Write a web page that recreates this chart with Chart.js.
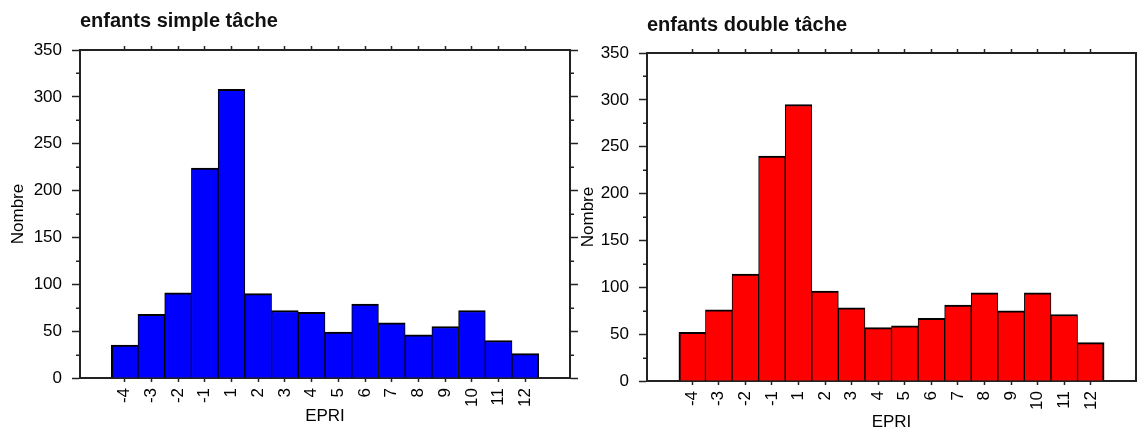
<!DOCTYPE html>
<html>
<head>
<meta charset="utf-8">
<script src="https://cdn.jsdelivr.net/npm/chart.js@4.4.1/dist/chart.umd.min.js"></script>
<style>
  html, body { margin: 0; padding: 0; background: #fff; }
  body { width: 1137px; height: 433px; position: relative; overflow: hidden; }
  canvas { position: absolute; top: 0; }
  #c1 { left: 0; }
  #c2 { left: 578px; }
</style>
</head>
<body>
<canvas id="c1" width="578" height="433"></canvas>
<canvas id="c2" width="559" height="433"></canvas>
<script>
// EPRI classes on the horizontal axis
const categories = ['-4', '-3', '-2', '-1', '1', '2', '3', '4', '5', '6', '7', '8', '9', '10', '11', '12'];
// Counts per class
const simpleTask = [35, 68, 91, 224, 308, 90, 72, 70, 49, 79, 59, 46, 55, 72, 40, 26];
const doubleTask = [52, 76, 114, 240, 295, 96, 78, 57, 59, 67, 81, 94, 75, 94, 71, 41];
// Vertical axis ticks
const majorTicks = [0, 50, 100, 150, 200, 250, 300, 350];
const minorTicks = [25, 75, 125, 175, 225, 275, 325];

const FONT = '"Liberation Sans", Arial, sans-serif';
const INK = '#222';

// Short intermediate ticks on both vertical edges of the frame
const minorTickPlugin = {
  id: 'minorTickMarks',
  afterDraw(chart) {
    const { ctx, chartArea } = chart;
    const y = chart.scales.y;
    ctx.save();
    ctx.strokeStyle = INK;
    ctx.lineWidth = 1.5;
    ctx.beginPath();
    for (const v of minorTicks) {
      const py = Math.round(y.getPixelForValue(v)) + 0.25;
      ctx.moveTo(chartArea.left - 4, py);
      ctx.lineTo(chartArea.left, py);
      ctx.moveTo(chartArea.right, py);
      ctx.lineTo(chartArea.right + 4, py);
    }
    ctx.stroke();
    ctx.restore();
  }
};

// Panel heading, left-aligned on the plot frame
const panelTitlePlugin = {
  id: 'panelTitle',
  afterDraw(chart, args, opts) {
    const { ctx, chartArea } = chart;
    ctx.save();
    ctx.font = 'bold 20px ' + FONT;
    ctx.fillStyle = '#111';
    ctx.textAlign = 'left';
    ctx.textBaseline = 'alphabetic';
    ctx.fillText(opts.text, chartArea.left, opts.y);
    ctx.restore();
  }
};

function histogram(canvasId, heading, values, color, g) {
  const xMin = -0.5 - g.pad;
  const xMax = categories.length - 0.5 + g.pad;
  const setCategoryTicks = (scale) => {
    scale.ticks = categories.map((_, i) => ({ value: i }));
  };
  const tickFont = { family: FONT, size: 17 };
  const n = values.length;

  return new Chart(document.getElementById(canvasId), {
    type: 'bar',
    data: {
      datasets: [{
        data: values.map((v, i) => ({ x: i, y: v })),
        backgroundColor: color,
        borderColor: '#000',
        borderWidth: (c) => ({
          top: 2,
          bottom: 0,
          left: c.dataIndex === 0 ? 2 : 1,
          right: c.dataIndex === n - 1 ? 2 : 1
        }),
        borderSkipped: 'bottom',
        barPercentage: 1,
        categoryPercentage: 1,
        xAxisID: 'x',
        yAxisID: 'y'
      }]
    },
    options: {
      responsive: false,
      animation: false,
      layout: { padding: 0 },
      plugins: {
        legend: { display: false },
        tooltip: { enabled: false },
        panelTitle: { text: heading, y: g.titleY }
      },
      scales: {
        x: {
          type: 'linear',
          position: 'bottom',
          min: xMin,
          max: xMax,
          offset: false,
          afterBuildTicks: setCategoryTicks,
          afterFit: (s) => { s.height = g.bottom; },
          grid: { drawOnChartArea: false, offset: false, tickLength: 4, tickWidth: 1.5, tickColor: INK },
          border: { display: true, color: INK, width: 2 },
          ticks: {
            autoSkip: false,
            minRotation: 90,
            maxRotation: 90,
            padding: 6,
            color: '#000',
            font: tickFont,
            callback: (v) => categories[v] ?? ''
          },
          title: {
            display: true,
            text: 'EPRI',
            color: '#000',
            font: tickFont,
            padding: { top: 0, bottom: g.xTitlePad }
          }
        },
        xTop: {
          type: 'linear',
          position: 'top',
          min: xMin,
          max: xMax,
          offset: false,
          afterBuildTicks: setCategoryTicks,
          afterFit: (s) => { s.height = g.top; },
          grid: { drawOnChartArea: false, offset: false, tickLength: 4, tickWidth: 1.5, tickColor: INK },
          border: { display: true, color: INK, width: 2 },
          ticks: { display: false }
        },
        y: {
          type: 'linear',
          position: 'left',
          min: 0,
          max: 350,
          afterBuildTicks: (s) => { s.ticks = majorTicks.map((v) => ({ value: v })); },
          afterFit: (s) => { s.width = g.left; },
          grid: { drawOnChartArea: false, tickLength: 8, tickWidth: 1.5, tickColor: INK },
          border: { display: true, color: INK, width: 2 },
          ticks: { padding: 10, color: '#000', font: tickFont },
          title: {
            display: true,
            text: 'Nombre',
            color: '#000',
            font: tickFont,
            padding: { top: g.yTitlePad, bottom: 0 }
          }
        },
        yRight: {
          type: 'linear',
          position: 'right',
          min: 0,
          max: 350,
          afterBuildTicks: (s) => { s.ticks = majorTicks.map((v) => ({ value: v })); },
          afterFit: (s) => { s.width = g.right; },
          grid: { drawOnChartArea: false, tickLength: 8, tickWidth: 1.5, tickColor: INK },
          border: { display: true, color: INK, width: 2 },
          ticks: { display: false }
        }
      }
    },
    plugins: [panelTitlePlugin, minorTickPlugin]
  });
}

histogram('c1', 'enfants simple tâche', simpleTask, '#0000ff', {
  left: 80, right: 8, top: 50, bottom: 55, pad: 1.17,
  titleY: 27, yTitlePad: 8, xTitlePad: 6
});

histogram('c2', 'enfants double tâche', doubleTask, '#ff0000', {
  left: 69, right: 1, top: 53, bottom: 52, pad: 1.2,
  titleY: 31, yTitlePad: 0, xTitlePad: 0
});
</script>
</body>
</html>
